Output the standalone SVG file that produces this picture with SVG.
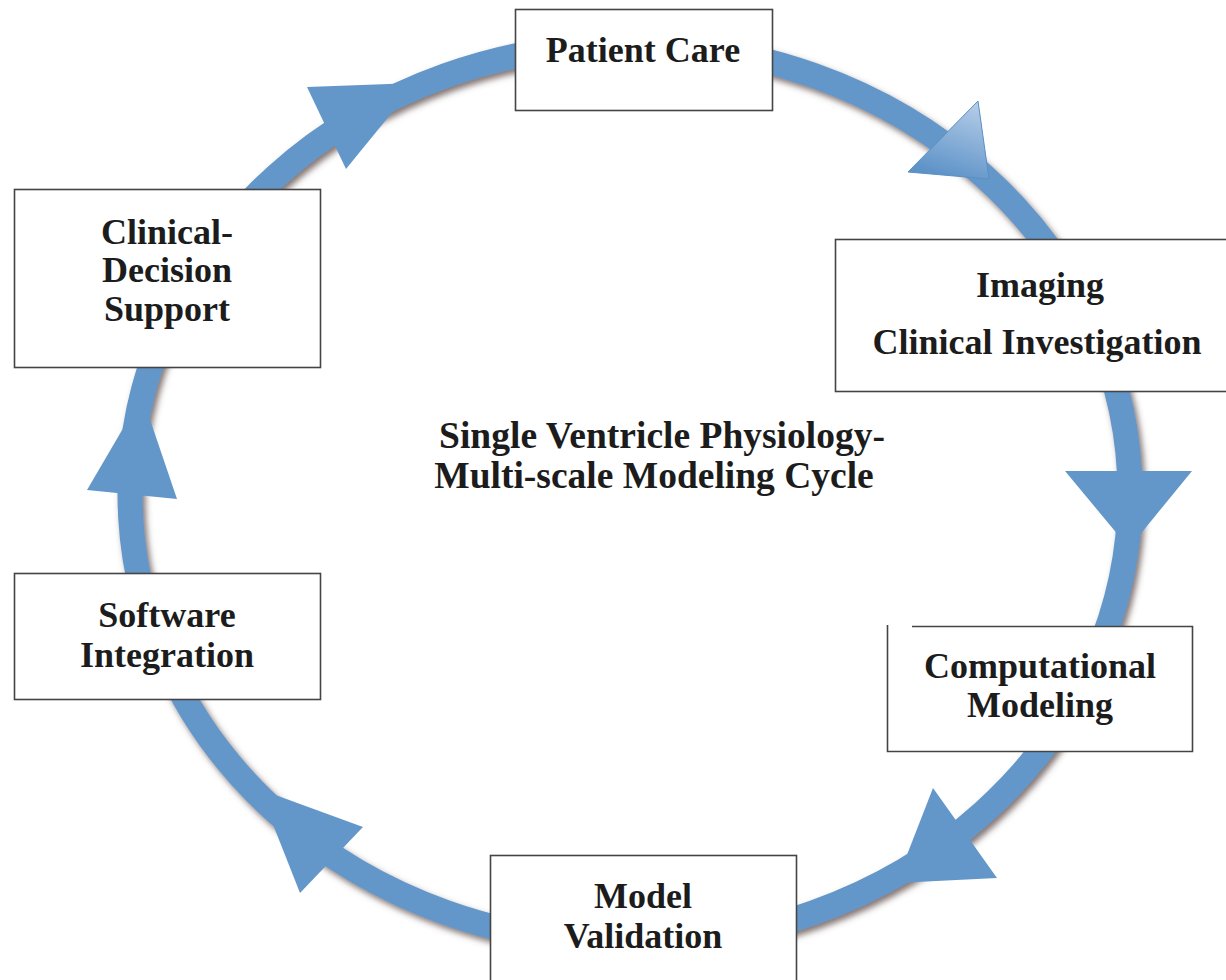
<svg xmlns="http://www.w3.org/2000/svg" width="1226" height="980" viewBox="0 0 1226 980">
  <defs>
    <filter id="ringShadow" x="-10%" y="-10%" width="120%" height="120%">
      <feGaussianBlur in="SourceAlpha" stdDeviation="3"/>
      <feOffset dx="3" dy="4" result="blur"/>
      <feFlood flood-color="#5a4845" flood-opacity="0.75"/>
      <feComposite in2="blur" operator="in"/>
      <feMerge>
        <feMergeNode/>
        <feMergeNode in="SourceGraphic"/>
      </feMerge>
    </filter>
    <linearGradient id="headShade" gradientUnits="userSpaceOnUse" x1="975" y1="105" x2="950" y2="178">
      <stop offset="0" stop-color="#b3cbe7"/>
      <stop offset="1" stop-color="#5e93c8"/>
    </linearGradient>
  </defs>
  <style>
    .ring { fill: none; stroke: #6397c9; stroke-width: 25; }
    .head { fill: #6397c9; }
    .box { fill: #ffffff; stroke: #444444; stroke-width: 1.6; }
    .label { font-family: "Liberation Serif", "Times New Roman", serif; font-weight: bold; font-size: 36px; fill: #1c1c1c; text-anchor: middle; }
    .title { font-size: 37.5px; }
  </style>

  <rect width="1226" height="980" fill="#ffffff"/>

  <!-- cycle ring and its direction arrowheads -->
  <g id="connectors">
    <ellipse class="ring" cx="630" cy="494" rx="500" ry="450" filter="url(#ringShadow)"/>
    <polygon class="head" points="307,87 416,83 346,169"/>
    <polygon points="908,172 978,101 989,179" fill="url(#headShade)" stroke="#5a8fc4" stroke-width="1"/>
    <polygon class="head" points="1065,471 1192,471 1129,548"/>
    <polygon class="head" points="933,788 997,878 896,883"/>
    <polygon class="head" points="363,827 300,893 259,789"/>
    <polygon class="head" points="87,490 177,499 142,396"/>
  </g>

  <g id="patient-care">
    <rect class="box" x="515.5" y="9.5" width="257" height="101"/>
    <text class="label" x="643" y="62">Patient Care</text>
  </g>

  <g id="imaging">
    <rect class="box" x="835.5" y="239.5" width="420" height="152"/>
    <text class="label" x="1040" y="297">Imaging</text>
    <text class="label" x="1037" y="354">Clinical Investigation</text>
  </g>

  <g id="computational-modeling">
    <rect x="887" y="626" width="306" height="126" fill="#ffffff"/>
    <path d="M912,626.5 H1192.5 V751.5 H887.5 V625" fill="none" stroke="#444444" stroke-width="1.6"/>
    <text class="label" x="1040" y="678">Computational</text>
    <text class="label" x="1040" y="717">Modeling</text>
  </g>

  <g id="model-validation">
    <rect class="box" x="490.5" y="855.5" width="306" height="150"/>
    <text class="label" x="643" y="908">Model</text>
    <text class="label" x="643" y="948">Validation</text>
  </g>

  <g id="software-integration">
    <rect class="box" x="14.5" y="573.5" width="306" height="126"/>
    <text class="label" x="167" y="627">Software</text>
    <text class="label" x="167" y="667">Integration</text>
  </g>

  <g id="clinical-decision-support">
    <rect class="box" x="14.5" y="189.5" width="306" height="178"/>
    <text class="label" x="167" y="244">Clinical-</text>
    <text class="label" x="167" y="282">Decision</text>
    <text class="label" x="167" y="321">Support</text>
  </g>

  <g id="cycle-title">
    <text class="label title" x="662" y="448">Single Ventricle Physiology-</text>
    <text class="label title" x="654" y="488">Multi-scale Modeling Cycle</text>
  </g>
</svg>
